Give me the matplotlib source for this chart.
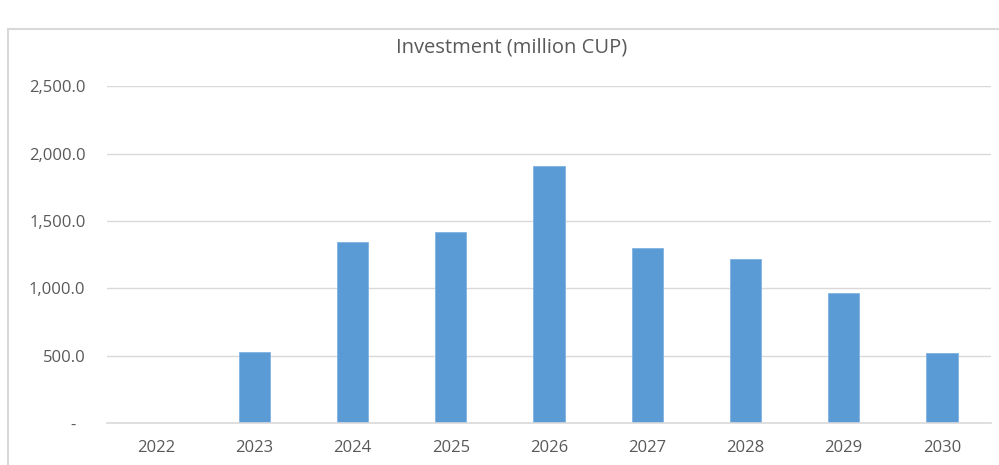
import matplotlib.pyplot as plt
from matplotlib.lines import Line2D
from matplotlib.ticker import FuncFormatter

years = ['2022', '2023', '2024', '2025', '2026', '2027', '2028', '2029', '2030']
investment = [0, 524, 1346, 1420, 1909, 1301, 1217, 967, 519]
yticks = [0, 500, 1000, 1500, 2000, 2500]

plt.rcParams['font.family'] = ['Open Sans', 'DejaVu Sans']

fig = plt.figure(figsize=(9.99, 4.65), dpi=100)
ax = fig.add_axes([107 / 999, 1 - 423 / 465, 884 / 999, (423 - 86.4) / 465])

ax.bar(range(len(years)), investment, width=0.32, color='#5B9BD5',
       edgecolor='#7FB2E0', linewidth=0.6, zorder=3)

ax.set_xlim(-0.5, len(years) - 0.5)
ax.set_ylim(0, 2500)
ax.set_yticks(yticks)
ax.yaxis.set_major_formatter(FuncFormatter(lambda v, p: '-  ' if v == 0 else f'{v:,.1f}'))
ax.set_xticks(range(len(years)))
ax.set_xticklabels(years)

ax.grid(axis='y', color='#D9D9D9', linewidth=1, zorder=0)
ax.axhline(0, color='#D9D9D9', linewidth=1.2, zorder=4, clip_on=False)
for s in ax.spines.values():
    s.set_visible(False)
ax.tick_params(length=0, labelsize=12, labelcolor='#595959')
ax.tick_params(axis='y', pad=15.5)
ax.tick_params(axis='x', pad=12.5)

fig.text(512 / 999, 1 - 47 / 465, 'Investment (million CUP)', ha='center', va='center',
         fontsize=14.5, color='#595959')

# chart frame (only the top and left edges are visible in the crop)
fig.add_artist(Line2D([8 / 999, 8 / 999], [0, 1 - 29 / 465], transform=fig.transFigure,
                      color='#D9D9D9', linewidth=1.5))
fig.add_artist(Line2D([8 / 999, 1], [1 - 29 / 465, 1 - 29 / 465], transform=fig.transFigure,
                      color='#D9D9D9', linewidth=1.5))

fig.savefig('out.png', dpi=100)
